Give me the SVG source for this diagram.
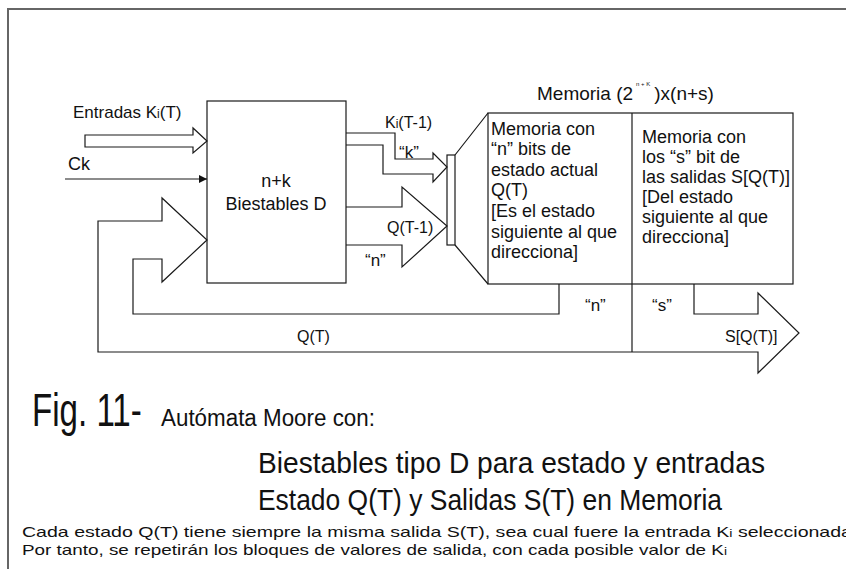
<svg xmlns="http://www.w3.org/2000/svg" width="846" height="569" viewBox="0 0 846 569">
<style>
.ln{fill:none;stroke:#1a1a1a;stroke-width:1.2}
.fr{fill:none;stroke:#666;stroke-width:2}
text{font-family:"Liberation Sans",Arial,sans-serif;fill:#111}
.t18{font-size:18px}
.t17{font-size:17px}
.t16{font-size:16px}
</style>
<defs>
<marker id="ah" viewBox="0 0 10 10" refX="10" refY="5" markerWidth="8" markerHeight="8" markerUnits="userSpaceOnUse" orient="auto">
<path d="M0,0 L10,5 L0,10 z" fill="#111"/>
</marker>
</defs>
<rect width="846" height="569" fill="#fff"/>
<path class="fr" d="M8,570 V9 H846"/>
<g id="biestables">
<rect class="ln" x="207" y="101" width="139" height="182" fill="#fff"/>
<text class="t18" x="276" y="187" text-anchor="middle">n+k</text>
<text class="t18" x="276" y="210" text-anchor="middle">Biestables D</text>
</g>
<g id="mux">
<rect class="ln" x="447" y="155" width="8" height="90"/>
<path class="ln" d="M455,155 L488,113 M455,245 L488,284"/>
</g>
<g id="memoria">
<text x="537" y="100" font-size="19">Memoria (2<tspan font-size="6" dy="-14" dx="3">n + K</tspan><tspan dy="14" dx="4">)x(n+s)</tspan></text>
<rect class="ln" x="488" y="113" width="305" height="171"/>
<path class="ln" d="M632,113 V284"/>
<text class="t18" x="491">
<tspan x="491" y="135">Memoria con</tspan>
<tspan x="491" y="155">“n” bits de</tspan>
<tspan x="491" y="176">estado actual</tspan>
<tspan x="491" y="196">Q(T)</tspan>
<tspan x="491" y="217">[Es el estado</tspan>
<tspan x="491" y="238">siguiente al que</tspan>
<tspan x="491" y="258">direcciona]</tspan>
</text>
<text class="t18">
<tspan x="642" y="143">Memoria con</tspan>
<tspan x="642" y="163">los “s” bit de</tspan>
<tspan x="642" y="183">las salidas S[Q(T)]</tspan>
<tspan x="642" y="203">[Del estado</tspan>
<tspan x="642" y="223">siguiente al que</tspan>
<tspan x="642" y="243">direcciona]</tspan>
</text>
</g>
<g id="connectors">
<path class="ln" d="M85,135 H193 V128 L207,141 L193,153 V147 H85 Z"/>
<path class="ln" d="M65,179 H207" marker-end="url(#ah)"/>
<path class="ln" d="M346,133 H395 V159 H433 V153 L447,167 L433,182 V174 H383 V145 H346"/>
<path class="ln" d="M346,207 H402 V187 L447,226 L402,267 V245 H346"/>
<path class="ln" d="M559,284 V314 H133 V259 H162 V282 L207,240 L162,198 V221 H98 V352 H758 V373 L799,333 L758,293 V314 H694 V284"/>
<path class="ln" d="M632,284 V352"/>
</g>
<g id="labels">
<text class="t17" x="73" y="118">Entradas K<tspan font-size="12">i</tspan>(T)</text>
<text class="t18" x="68" y="170">Ck</text>
<text class="t16" x="385" y="128">K<tspan font-size="12">i</tspan>(T-1)</text>
<text class="t17" x="399" y="158">“k”</text>
<text class="t16" x="387" y="233">Q(T-1)</text>
<text class="t17" x="365" y="266">“n”</text>
<text class="t17" x="585" y="311">“n”</text>
<text class="t17" x="652" y="311">“s”</text>
<text class="t16" x="725" y="342">S[Q(T)]</text>
<text class="t16" x="297" y="342">Q(T)</text>
</g>
<g id="caption">
<text transform="translate(32,426) scale(0.72,1)" x="0" y="0" font-size="46">Fig. 11-</text>
<text x="161" y="426" font-size="23" textLength="214" lengthAdjust="spacingAndGlyphs">Autómata Moore con:</text>
<text x="258" y="473" font-size="29" textLength="507" lengthAdjust="spacingAndGlyphs">Biestables tipo D para estado y entradas</text>
<text x="258" y="510" font-size="29" textLength="464" lengthAdjust="spacingAndGlyphs">Estado Q(T) y Salidas S(T) en Memoria</text>
<text x="22" y="537" font-size="15" textLength="830" lengthAdjust="spacingAndGlyphs">Cada estado Q(T) tiene siempre la misma salida S(T), sea cual fuere la entrada K<tspan font-size="11">i</tspan>  seleccionada</text>
<text x="22" y="555" font-size="15" textLength="705" lengthAdjust="spacingAndGlyphs">Por tanto, se repetirán los bloques de valores de salida, con cada posible valor de K<tspan font-size="11">i</tspan></text>
</g>
</svg>
